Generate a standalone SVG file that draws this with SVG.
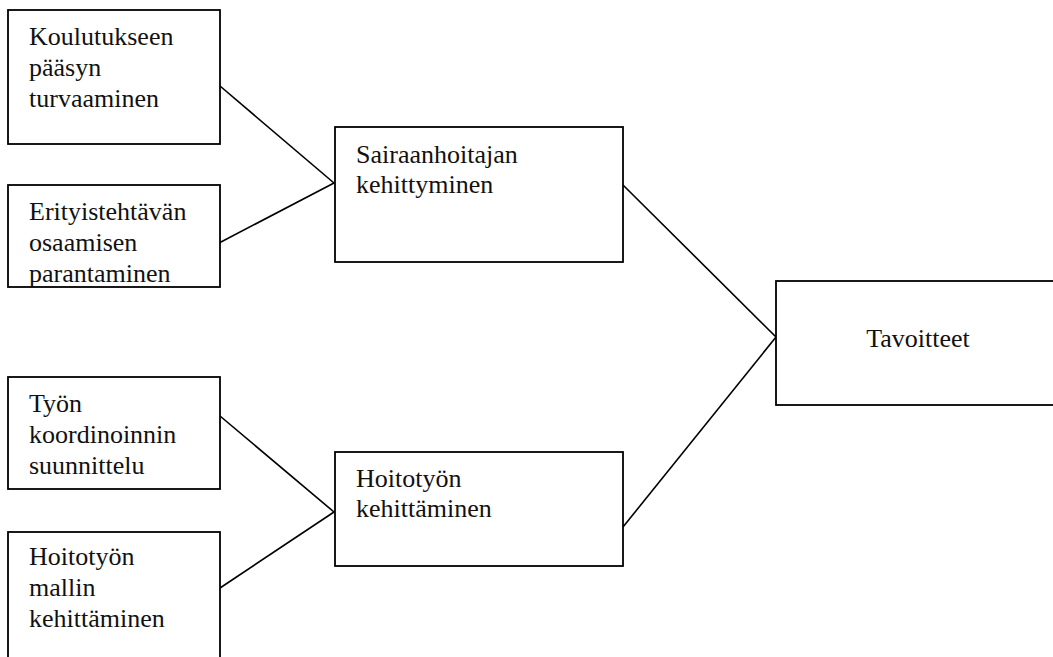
<svg xmlns="http://www.w3.org/2000/svg" width="1053" height="657" viewBox="0 0 1053 657">
<style>
.box{fill:#fff;stroke:#000;stroke-width:1.8}
.t{font-family:"Liberation Serif","Times New Roman","DejaVu Serif",serif;font-size:26px;fill:#111}
.c{fill:none;stroke:#000;stroke-width:1.6}
</style>
<rect width="1053" height="657" fill="#fff"/>
<g id="connectors">
<line class="c" x1="220" y1="86" x2="334" y2="183"/>
<line class="c" x1="220" y1="242.5" x2="334" y2="183"/>
<line class="c" x1="220" y1="416" x2="334" y2="512"/>
<line class="c" x1="220" y1="588" x2="334" y2="512"/>
<line class="c" x1="623" y1="185" x2="776" y2="337"/>
<line class="c" x1="623" y1="527" x2="776" y2="337"/>
</g>
<g id="n1" font-family="Liberation Serif, serif">
<rect class="box" x="8" y="10" width="212" height="134"/>
<text class="t" x="29" y="45">Koulutukseen</text>
<text class="t" x="29" y="76">pääsyn</text>
<text class="t" x="29" y="107">turvaaminen</text>
</g>
<g id="n2">
<rect class="box" x="8" y="185" width="212" height="102"/>
<text class="t" x="29" y="220">Erityistehtävän</text>
<text class="t" x="29" y="251">osaamisen</text>
<text class="t" x="29" y="281.5">parantaminen</text>
</g>
<g id="n3">
<rect class="box" x="8" y="377" width="212" height="112"/>
<text class="t" x="29" y="412">Työn</text>
<text class="t" x="29" y="443">koordinoinnin</text>
<text class="t" x="29" y="473.5">suunnittelu</text>
</g>
<g id="n4">
<rect class="box" x="8" y="532" width="212" height="140"/>
<text class="t" x="29" y="565">Hoitotyön</text>
<text class="t" x="29" y="596">mallin</text>
<text class="t" x="29" y="626.5">kehittäminen</text>
</g>
<g id="n5">
<rect class="box" x="335" y="127" width="288" height="135"/>
<text class="t" x="356" y="163">Sairaanhoitajan</text>
<text class="t" x="356" y="193">kehittyminen</text>
</g>
<g id="n6">
<rect class="box" x="335" y="452" width="288" height="114"/>
<text class="t" x="356" y="487">Hoitotyön</text>
<text class="t" x="356" y="517">kehittäminen</text>
</g>
<g id="n7">
<rect class="box" x="776" y="281" width="290" height="124"/>
<text class="t" x="918" y="347" text-anchor="middle">Tavoitteet</text>
</g>
</svg>
